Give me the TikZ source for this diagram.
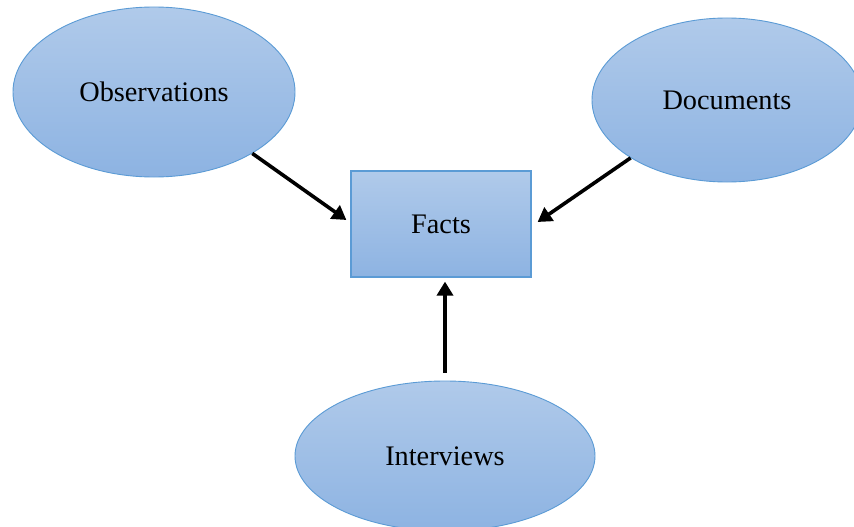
\documentclass[tikz,border=0pt]{standalone}
\usepackage{fontspec}
\setmainfont{Liberation Serif}
\usetikzlibrary{shapes.geometric,arrows.meta}
\definecolor{fillTop}{HTML}{B0CAEA}
\definecolor{fillBot}{HTML}{8DB3E2}
\definecolor{edgeBlue}{HTML}{5B9BD5}
\tikzset{
  source/.style={ellipse, inner sep=0pt, draw=edgeBlue, line width=0.9pt,
    top color=fillTop, bottom color=fillBot,
    font=\fontsize{28.3}{34}\selectfont},
  factbox/.style={rectangle, inner sep=0pt, draw=edgeBlue, line width=1.2pt,
    top color=fillTop, bottom color=fillBot,
    minimum width=180pt, minimum height=106pt,
    font=\fontsize{28.3}{34}\selectfont},
  feed/.style={line width=3.6pt, -{Triangle[length=14pt,width=16pt]}}
}
\begin{document}
\begin{tikzpicture}[x=1pt,y=-1pt]
  \clip (0,0) rectangle (854,527);
  \fill[white] (0,0) rectangle (854,527);
  \node[source, minimum width=282pt, minimum height=170pt] (obs) at (154,92) {Observations};
  \node[source, minimum width=270pt, minimum height=164pt] (doc) at (727,100) {Documents};
  \node[source, minimum width=300pt, minimum height=150pt] (int) at (445,456) {Interviews};
  \node[factbox] (facts) at (441,224) {Facts};
  \draw[feed] (obs.-32) -- ([xshift=-4pt,yshift=4pt]facts.west);
  \draw[feed] (doc.-149.5) -- ([xshift=6pt,yshift=2pt]facts.east);
  \draw[feed] ([yshift=8pt]int.north) -- ([xshift=4pt,yshift=-4pt]facts.south);
\end{tikzpicture}
\end{document}
